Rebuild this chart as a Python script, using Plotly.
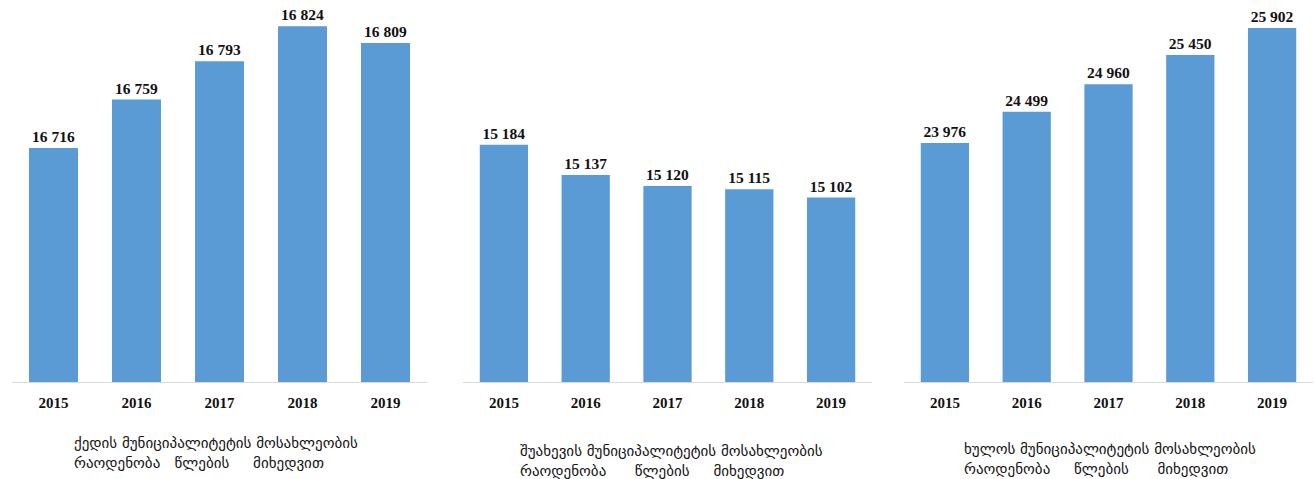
import plotly.graph_objects as go

years = ["2015", "2016", "2017", "2018", "2019"]
kedi = [16716, 16759, 16793, 16824, 16809]
shuakhevi = [15184, 15137, 15120, 15115, 15102]
khulo = [23976, 24499, 24960, 25450, 25902]

caption_line1 = [
    "ქედის მუნიციპალიტეტის მოსახლეობის",
    "შუახევის მუნიციპალიტეტის მოსახლეობის",
    "ხულოს მუნიციპალიტეტის მოსახლეობის",
]
caption_words2 = ["რაოდენობა", "წლების", "მიხედვით"]

W, H = 1314, 479
BAR = "#5b9bd5"
SERIF = "Liberation Serif"

series = [kedi, shuakhevi, khulo]
xdom_px = [(12, 427), (463, 872), (904, 1313)]
base_px = 382
yranges = [(16508.7, 16847.2), (14815.8, 15408.5), (19973, 26371)]
cap_left = [72, 518, 962]
cap_mid = [453, 461, 459]
gaps = [(3, 5), (6, 5), (5, 6)]

fig = go.Figure()
for i, vals in enumerate(series):
    xa = "x" if i == 0 else f"x{i+1}"
    ya = "y" if i == 0 else f"y{i+1}"
    fig.add_trace(go.Bar(
        x=years, y=vals, xaxis=xa, yaxis=ya,
        marker=dict(color=BAR, line=dict(width=0)),
        text=[f"{v:,}".replace(",", " ") for v in vals],
        textposition="outside", cliponaxis=False,
        textfont=dict(family=SERIF, size=15.5, color="#111", weight="bold"),
        hoverinfo="skip", showlegend=False,
    ))
    d0, d1 = xdom_px[i]
    axkey = "xaxis" if i == 0 else f"xaxis{i+1}"
    aykey = "yaxis" if i == 0 else f"yaxis{i+1}"
    fig.update_layout(**{
        axkey: dict(domain=[d0 / W, d1 / W], anchor=ya, type="category",
                    showline=True, linecolor="#d9d9d9", linewidth=1,
                    showgrid=False, zeroline=False, ticks="outside", ticklen=7,
                    tickcolor="rgba(0,0,0,0)",
                    tickfont=dict(family=SERIF, size=15, color="#111", weight="bold"),
                    range=[-0.5, 4.5], fixedrange=True),
        aykey: dict(domain=[1 - base_px / H, 1], anchor=xa, range=list(yranges[i]),
                    visible=False, showgrid=False, zeroline=False, fixedrange=True),
    })
    g1, g2 = gaps[i]
    line2 = caption_words2[0] + "\u00a0" * g1 + caption_words2[1] + "\u00a0" * g2 + caption_words2[2]
    fig.add_annotation(
        xref="paper", yref="paper", x=cap_left[i] / W, y=1 - cap_mid[i] / H,
        xanchor="left", yanchor="middle", align="left", showarrow=False,
        text=caption_line1[i] + "<br>" + line2,
        font=dict(family="DejaVu Sans", size=15, color="#111"),
    )

fig.update_layout(
    width=W, height=H, margin=dict(l=0, r=0, t=0, b=0),
    paper_bgcolor="white", plot_bgcolor="white",
    bargap=0.41,
)
fig.write_html("out.html", config={"displayModeBar": False},
               post_script="document.body.style.margin='0';document.body.style.overflow='hidden';")
